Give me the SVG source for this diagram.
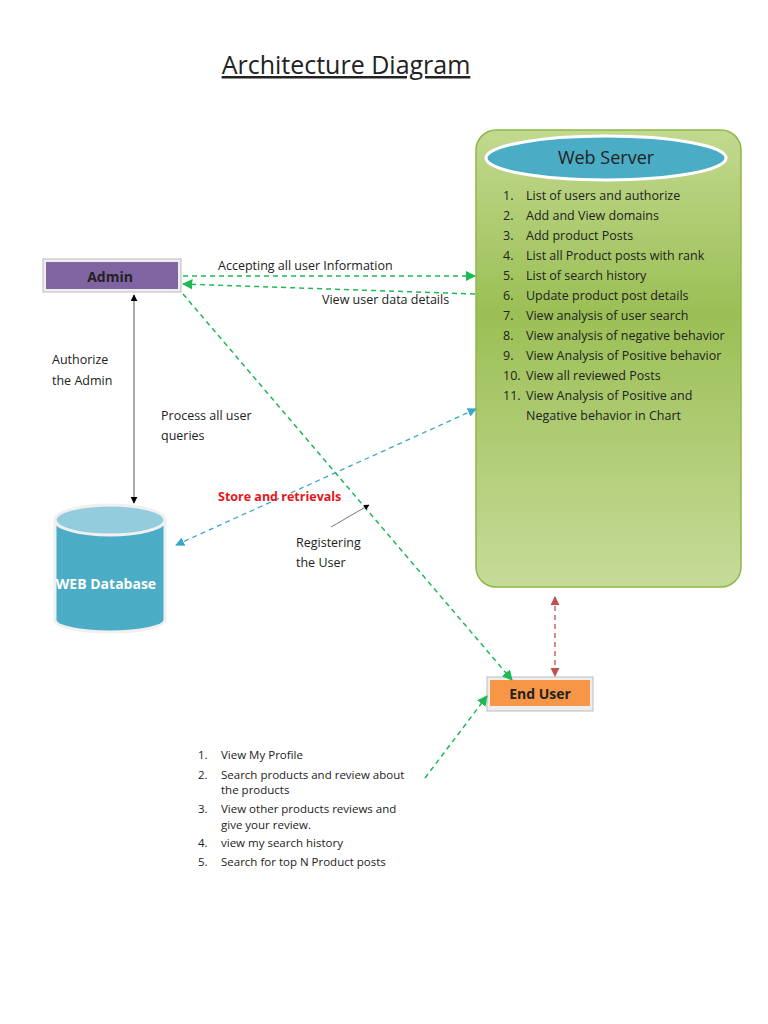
<svg xmlns="http://www.w3.org/2000/svg" width="768" height="1024" viewBox="0 0 768 1024">
<defs>
<style>
text{font-family:"Open Sans","DejaVu Sans",sans-serif;fill:#222}
.t{font-size:12.5px}
.s{font-size:11.5px}
.g{stroke:#1db954;stroke-width:1.5;stroke-dasharray:5,4;fill:none}
.b{stroke:#3aa6cc;stroke-width:1.3;stroke-dasharray:5,4;fill:none}
</style>
<linearGradient id="gr" x1="0" y1="0" x2="0" y2="1"><stop offset="0" stop-color="#c2d98f"/><stop offset="0.4" stop-color="#9bbf55"/><stop offset="1" stop-color="#c6db99"/></linearGradient>
<marker id="ag" viewBox="0 0 10 10" refX="9" refY="5" markerWidth="7" markerHeight="7" orient="auto-start-reverse"><path d="M0,0L10,5L0,10z" fill="#1db954"/></marker>
<marker id="ab" viewBox="0 0 10 10" refX="9" refY="5" markerWidth="7" markerHeight="7" orient="auto-start-reverse"><path d="M0,0L10,5L0,10z" fill="#3aa6cc"/></marker>
<marker id="ak" viewBox="0 0 10 10" refX="9" refY="5" markerWidth="7" markerHeight="7" orient="auto-start-reverse"><path d="M0,0L10,5L0,10z" fill="#000"/></marker>
<marker id="ar" viewBox="0 0 10 10" refX="9" refY="5" markerWidth="7" markerHeight="7" orient="auto-start-reverse"><path d="M0,0L10,5L0,10z" fill="#c0504d"/></marker>
</defs>
<rect width="768" height="1024" fill="#fff"/>
<text x="346" y="74" text-anchor="middle" style="font-size:25px;text-decoration:underline" font-family="Lato,'Open Sans',sans-serif">Architecture Diagram</text>
<g id="webserver">
<rect x="476" y="130" width="265" height="457" rx="20" fill="url(#gr)" stroke="#8fb84a" stroke-width="1.5"/>
<ellipse cx="606" cy="158" rx="120" ry="22" fill="#4bacc6" stroke="#fff" stroke-width="3"/>
<text x="606" y="164" text-anchor="middle" style="font-size:18px">Web Server</text>
<g class="t">
<text x="503" y="200">1.</text><text x="526" y="200">List of users and authorize</text>
<text x="503" y="220">2.</text><text x="526" y="220">Add and View domains</text>
<text x="503" y="240">3.</text><text x="526" y="240">Add product Posts</text>
<text x="503" y="260">4.</text><text x="526" y="260">List  all Product posts with rank</text>
<text x="503" y="280">5.</text><text x="526" y="280">List of search history</text>
<text x="503" y="300">6.</text><text x="526" y="300">Update product post details</text>
<text x="503" y="320">7.</text><text x="526" y="320">View  analysis of user search</text>
<text x="503" y="340">8.</text><text x="526" y="340">View  analysis of negative behavior</text>
<text x="503" y="360">9.</text><text x="526" y="360">View Analysis of Positive behavior</text>
<text x="503" y="380">10.</text><text x="526" y="380">View all reviewed Posts</text>
<text x="503" y="400">11.</text><text x="526" y="400">View Analysis of Positive and</text>
<text x="526" y="420">Negative behavior in Chart</text>
</g>
</g>
<g id="admin">
<rect x="43" y="259" width="138" height="33" fill="#eee" stroke="#bbb"/>
<rect x="46" y="262" width="132" height="27" fill="#8064a2"/>
<text x="110" y="282" text-anchor="middle" style="font-size:14px;font-weight:bold" fill="#111">Admin</text>
</g>
<g id="database">
<path d="M55,520 V620 A55,12 0 0 0 165,620 V520" fill="#4bacc6" stroke="#f0f0f0" stroke-width="3"/>
<ellipse cx="110" cy="520" rx="55" ry="15" fill="#93cddd" stroke="#f0f0f0" stroke-width="3"/>
<text x="106" y="589" text-anchor="middle" style="font-size:14px;font-weight:bold;fill:#fff">WEB Database</text>
</g>
<g id="enduser">
<rect x="487" y="677" width="106" height="34" fill="#eee" stroke="#bbb"/>
<rect x="490" y="680" width="100" height="26" fill="#f79646"/>
<text x="540" y="699" text-anchor="middle" style="font-size:14px;font-weight:bold" fill="#111">End User</text>
</g>
<g id="connectors">
<line x1="183" y1="276" x2="475" y2="276" class="g" marker-end="url(#ag)"/>
<line x1="475" y1="294" x2="183" y2="284" class="g" marker-end="url(#ag)"/>
<line x1="183" y1="294" x2="512" y2="680" class="g" marker-end="url(#ag)"/>
<line x1="425" y1="778" x2="487" y2="696" class="g" marker-end="url(#ag)"/>
<line x1="176" y1="545" x2="476" y2="409" class="b" marker-start="url(#ab)" marker-end="url(#ab)"/>
<line x1="134" y1="295" x2="134" y2="503" stroke="#555" stroke-width="1" marker-start="url(#ak)" marker-end="url(#ak)"/>
<line x1="331" y1="527" x2="369" y2="505" stroke="#555" stroke-width="0.8" marker-end="url(#ak)"/>
<line x1="555" y1="597" x2="555" y2="676" stroke="#c0504d" stroke-width="1.3" stroke-dasharray="5,4" marker-start="url(#ar)" marker-end="url(#ar)"/>
</g>
<g class="t">
<text x="218" y="270">Accepting all user Information</text>
<text x="322" y="304">View user data details</text>
<text x="52" y="364">Authorize</text><text x="52" y="385">the Admin</text>
<text x="161" y="420">Process all user</text><text x="161" y="440">queries</text>
<text x="218" y="501" style="fill:#e8141c;font-weight:bold">Store and retrievals</text>
<text x="296" y="547">Registering</text><text x="296" y="567">the User</text>
</g>
<g class="s">
<text x="198" y="759">1.</text><text x="221" y="759">View My Profile</text>
<text x="198" y="779">2.</text><text x="221" y="779">Search products and review about</text>
<text x="221" y="794">the products</text>
<text x="198" y="813">3.</text><text x="221" y="813">View other products reviews and</text>
<text x="221" y="829">give your review.</text>
<text x="198" y="847">4.</text><text x="221" y="847">view my search history</text>
<text x="198" y="866">5.</text><text x="221" y="866">Search for top N Product posts</text>
</g>
</svg>
